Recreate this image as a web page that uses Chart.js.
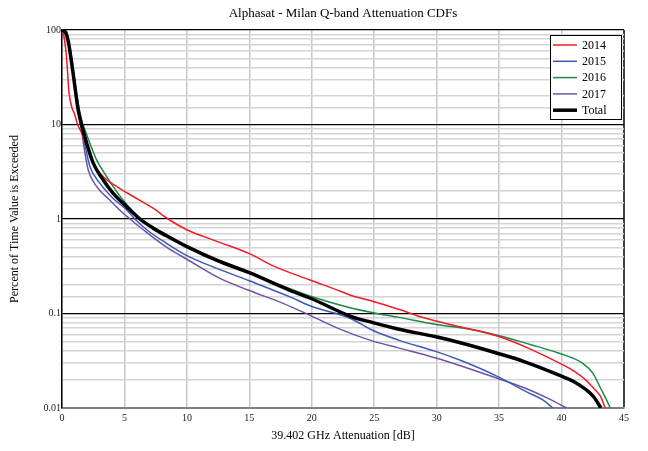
<!DOCTYPE html>
<html>
<head>
<meta charset="utf-8">
<script src="https://cdn.jsdelivr.net/npm/chart.js@4/dist/chart.umd.min.js"></script>
<style>
html,body{margin:0;padding:0;background:#fff;}
#wrap{width:648px;height:451px;}
</style>
</head>
<body>
<div id="wrap"><canvas id="c" width="648" height="451"></canvas></div>
<script>
// ---- data ----
const seriesLabels = ['2014', '2015', '2016', '2017', 'Total'];
const xTickValues = [0, 5, 10, 15, 20, 25, 30, 35, 40, 45];
const yTickLabels = ['0.01', '0.1', '1', '10', '100'];

const x2014 = [0, 0.18, 0.37, 0.56, 0.8, 1.0, 1.25, 1.58, 1.98, 2.5, 3.3, 4.4, 5.7, 7.3, 8.5, 10, 12.4, 15, 17, 19.9, 22, 23, 25, 27, 29, 31, 33, 35, 37.5, 39.8, 41, 42, 42.6, 43.1, 43.5];
const y2014 = [100, 82, 50, 22, 15, 13, 10, 8.1, 5.8, 3.9, 2.8, 2.2, 1.73, 1.3, 1.0, 0.77, 0.58, 0.43, 0.315, 0.225, 0.178, 0.158, 0.133, 0.11, 0.09, 0.077, 0.067, 0.057, 0.042, 0.03, 0.0245, 0.0195, 0.016, 0.0134, 0.01];

const x2015 = [0, 0.2, 0.37, 0.55, 0.72, 0.9, 1.09, 1.3, 1.5, 1.92, 2.24, 3.04, 4.1, 5.18, 5.84, 6.78, 8.4, 10, 12.4, 15, 18.25, 19.9, 23.06, 24.9, 27, 29.86, 31.9, 34.9, 37.2, 38.5, 39.3];
const y2015 = [100, 97, 88, 70, 50, 34, 22, 14, 10, 5.4, 3.57, 2.38, 1.65, 1.25, 1.0, 0.77, 0.55, 0.41, 0.30, 0.222, 0.15, 0.12, 0.089, 0.066, 0.052, 0.04, 0.032, 0.0215, 0.0148, 0.0122, 0.01];

const x2016 = [0, 0.3, 0.45, 0.6, 0.78, 0.95, 1.15, 1.38, 1.6, 1.84, 2.24, 2.78, 3.58, 4.1, 5.0, 6.24, 8.4, 10, 12.4, 15, 17.7, 19.9, 23.06, 24.9, 27, 29.86, 32.7, 34.85, 37.5, 39.8, 41.7, 42.5, 43.2, 43.6, 43.9];
const y2016 = [100, 99.5, 88, 68, 50, 34, 22, 14.5, 10.8, 8.75, 6.3, 4.2, 2.8, 2.2, 1.52, 1.02, 0.68, 0.52, 0.375, 0.272, 0.195, 0.152, 0.115, 0.102, 0.091, 0.077, 0.068, 0.059, 0.047, 0.038, 0.0297, 0.0234, 0.0155, 0.0122, 0.01];

const x2017 = [0, 0.2, 0.37, 0.55, 0.72, 0.9, 1.09, 1.3, 1.5, 1.84, 2.1, 2.78, 3.84, 4.9, 5.44, 6.5, 8.4, 10, 12.65, 15, 17.7, 19.9, 22.3, 24.9, 27, 29.86, 31.9, 34.9, 37.2, 39, 40.4];
const y2017 = [100, 97, 88, 70, 50, 34, 22, 14, 10, 4.95, 3.3, 2.2, 1.58, 1.15, 1.0, 0.77, 0.5, 0.375, 0.235, 0.175, 0.128, 0.095, 0.068, 0.051, 0.043, 0.034, 0.028, 0.0205, 0.016, 0.0125, 0.01];

const xTotal = [0, 0.2, 0.37, 0.55, 0.72, 0.9, 1.09, 1.3, 1.52, 1.98, 2.5, 3.3, 4.1, 5.18, 6.24, 7.3, 8.4, 10, 12.4, 15, 18.25, 19.9, 23.06, 24.9, 27, 29.86, 31.9, 34.85, 37, 39.8, 41, 42, 42.6, 43.15];
const yTotal = [100, 97, 88.5, 70, 50, 34, 22, 14.2, 10.5, 6.3, 3.9, 2.59, 1.87, 1.35, 1.0, 0.8, 0.66, 0.51, 0.365, 0.27, 0.176, 0.145, 0.094, 0.08, 0.068, 0.057, 0.049, 0.038, 0.031, 0.0223, 0.019, 0.0155, 0.013, 0.01];

// ---- build ----
const pts = (xs, ys) => xs.map((x, i) => ({x: x, y: ys[i]}));
const styles = [
  {color: '#ee1c25', width: 1.5},
  {color: '#3b5bb5', width: 1.5},
  {color: '#1d8a45', width: 1.5},
  {color: '#7052a6', width: 1.5},
  {color: '#000000', width: 3.5}
];
const allX = [x2014, x2015, x2016, x2017, xTotal];
const allY = [y2014, y2015, y2016, y2017, yTotal];

const datasets = seriesLabels.map((lab, i) => ({
  label: lab,
  data: pts(allX[i], allY[i]),
  borderColor: styles[i].color,
  backgroundColor: styles[i].color,
  borderWidth: styles[i].width,
  pointRadius: 0,
  fill: false,
  cubicInterpolationMode: 'monotone',
  order: lab === 'Total' ? -1 : i
}));

const isDecade = v => Math.abs(Math.log10(v) - Math.round(Math.log10(v))) < 1e-6;
const serif = '"Liberation Serif", "DejaVu Serif", serif';

const boxLegend = {
  id: 'boxLegend',
  afterDraw(chart) {
    const ctx = chart.ctx;
    const x0 = 550, y0 = 35, w = 71, h = 84;
    ctx.save();
    ctx.fillStyle = '#fff';
    ctx.fillRect(x0, y0, w, h);
    ctx.strokeStyle = '#000';
    ctx.lineWidth = 1;
    ctx.strokeRect(x0 + 0.5, y0 + 0.5, w, h);
    ctx.font = '12px ' + serif;
    ctx.textBaseline = 'middle';
    ctx.textAlign = 'left';
    chart.data.datasets.forEach((ds, i) => {
      const yy = y0 + 10 + i * 16.3;
      ctx.strokeStyle = ds.borderColor;
      ctx.lineWidth = ds.borderWidth;
      ctx.beginPath();
      ctx.moveTo(x0 + 3, yy);
      ctx.lineTo(x0 + 27, yy);
      ctx.stroke();
      ctx.fillStyle = '#000';
      ctx.fillText(ds.label, x0 + 32, yy + 0.5);
    });
    ctx.restore();
  }
};

new Chart(document.getElementById('c'), {
  type: 'line',
  data: {datasets: datasets},
  plugins: [boxLegend],
  options: {
    responsive: false,
    animation: false,
    devicePixelRatio: 1,
    layout: {padding: {left: 0, right: 24, top: 0, bottom: 0}},
    plugins: {
      legend: {display: false},
      tooltip: {enabled: false},
      title: {
        display: true,
        fullSize: false,
        text: 'Alphasat - Milan Q-band Attenuation CDFs',
        color: '#000',
        font: {family: serif, size: 13, weight: 'normal', lineHeight: 1.2},
        padding: {top: 6, bottom: 8.4}
      }
    },
    scales: {
      x: {
        type: 'linear',
        min: 0, max: 45,
        afterFit(s) { s.height = 43; },
        afterBuildTicks(s) { s.ticks = xTickValues.map(v => ({value: v})); },
        ticks: {
          autoSkip: false, maxRotation: 0, padding: 4,
          color: '#222',
          font: {family: serif, size: 10}
        },
        grid: {
          drawTicks: false,
          color: c => (c.tick && c.tick.value === 45) ? '#404040' : '#c8c8c8',
          lineWidth: c => (c.tick && c.tick.value === 45) ? 2 : 1.5
        },
        border: {display: true, color: '#808080', width: 2},
        title: {
          display: true,
          text: '39.402 GHz Attenuation [dB]',
          color: '#000',
          font: {family: serif, size: 12, lineHeight: 1.2},
          padding: {top: 0, bottom: 7.8}
        }
      },
      y: {
        type: 'logarithmic',
        min: 0.01, max: 100,
        afterFit(s) { s.width = 62; },
        ticks: {
          autoSkip: false, padding: 1,
          color: '#222',
          font: {family: serif, size: 10},
          callback: v => {
            const f = yTickLabels.find(t => Math.abs(Number(t) - v) / v < 1e-6);
            return f ? f : '';
          }
        },
        grid: {
          drawTicks: false,
          color: c => {
            if (!c.tick) return '#d4d4d4';
            const v = c.tick.value;
            if (Math.abs(v - 0.01) < 1e-9) return '#808080';
            return isDecade(v) ? '#000' : '#d4d4d4';
          },
          lineWidth: c => (c.tick && isDecade(c.tick.value)) ? 1.2 : 1.5
        },
        border: {display: true, color: '#000', width: 1.5},
        title: {
          display: true,
          text: 'Percent of Time Value is Exceeded',
          color: '#000',
          font: {family: serif, size: 12, lineHeight: 1.2},
          padding: {top: 8, bottom: 0}
        }
      }
    }
  }
});
</script>
</body>
</html>
